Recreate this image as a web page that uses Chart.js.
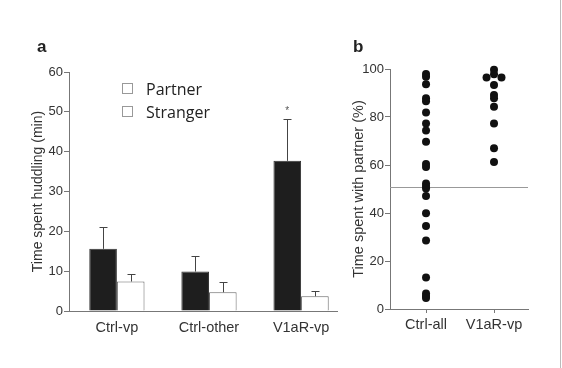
<!DOCTYPE html>
<html>
<head>
<meta charset="utf-8">
<script src="https://cdn.jsdelivr.net/npm/chart.js@4"></script>
<style>
  body { margin: 0; background: #fff; width: 562px; height: 368px; overflow: hidden; position: relative; font-family: "Liberation Sans", Arial, sans-serif; }
  #wrapA { position: absolute; left: 0; top: 0; width: 345px; height: 368px; }
  #wrapB { position: absolute; left: 340px; top: 0; width: 222px; height: 368px; }
  .panel { position: absolute; font-weight: bold; font-size: 17px; line-height: 1; color: #222; }
  .key { position: absolute; width: 9px; height: 9px; border: 1px solid #999; background: #fff; }
  .keytext { position: absolute; font-family: "Open Sans", sans-serif; font-size: 16px; line-height: 1; color: #222; }
  #edge { position: absolute; left: 560px; top: 0; width: 1px; height: 368px; background: #bbb; }
</style>
</head>
<body>
<div id="wrapA"><canvas id="chartA" width="345" height="368"></canvas></div>
<div id="wrapB"><canvas id="chartB" width="222" height="368"></canvas></div>
<div class="panel" style="left:37px; top:38px;">a</div>
<div class="panel" style="left:353px; top:38px;">b</div>
<div class="key" style="left:122px; top:83px;"></div>
<div class="keytext" style="left:146px; top:81px;">Partner</div>
<div class="key" style="left:122px; top:106px;"></div>
<div class="keytext" style="left:146px; top:104px;">Stranger</div>
<div id="edge"></div>
<script>
// panel a: huddling time (min)
var groups = ['Ctrl-vp', 'Ctrl-other', 'V1aR-vp'];
var partnerMin = [15.6, 9.9, 37.7];
var partnerErr = [21.1, 13.7, 48.3];
var strangerMin = [7.4, 4.7, 3.7];
var strangerErr = [9.4, 7.3, 4.9];
var starGroups = [2];

// panel b: time with partner (%)
var cohorts = ['Ctrl-all', 'V1aR-vp'];
var ctrlAll = [97.9, 96.8, 93.6, 87.8, 86.6, 81.9, 77.3, 74.4, 69.7, 60.4, 59.2,
  52.3, 51.2, 50.2, 47.1, 39.9, 34.6, 28.5, 13.1, 6.5, 5.4, 4.6];
var v1aR = [99.7, 97.8, 96.5, 96.5, 93.3, 89.2, 87.8, 84.3, 77.3, 67.0, 61.3];
var v1aRShift = [0, 0, -0.11, 0.11, 0, 0, 0, 0, 0, 0, 0];
var chanceLine = 51;

var ink = '#333';
var axisCol = '#777';

var errorBars = {
  id: 'errorBars',
  afterDatasetsDraw: function(chart) {
    var ctx = chart.ctx;
    var y = chart.scales.y;
    ctx.save();
    ctx.strokeStyle = '#444';
    ctx.lineWidth = 1;
    chart.data.datasets.forEach(function(ds, i) {
      chart.getDatasetMeta(i).data.forEach(function(bar, j) {
        var top = Math.round(y.getPixelForValue(ds.errTop[j])) + 0.5;
        var x = Math.round(bar.x) + 0.5;
        ctx.beginPath();
        ctx.moveTo(x, bar.y);
        ctx.lineTo(x, top);
        ctx.moveTo(x - 4, top);
        ctx.lineTo(x + 4, top);
        ctx.stroke();
      });
    });
    // significance mark
    ctx.fillStyle = '#555';
    ctx.font = '10px "Liberation Sans"';
    ctx.textAlign = 'center';
    starGroups.forEach(function(j) {
      var bar = chart.getDatasetMeta(0).data[j];
      ctx.fillText('*', bar.x, y.getPixelForValue(partnerErr[j]) - 5);
    });
    ctx.restore();
  }
};

var chanceLinePlugin = {
  id: 'chanceLine',
  beforeDatasetsDraw: function(chart) {
    var ctx = chart.ctx;
    var a = chart.chartArea;
    var py = Math.round(chart.scales.y.getPixelForValue(chanceLine)) + 0.5;
    ctx.save();
    ctx.strokeStyle = '#999';
    ctx.lineWidth = 1;
    ctx.beginPath();
    ctx.moveTo(a.left, py);
    ctx.lineTo(a.right, py);
    ctx.stroke();
    ctx.restore();
  }
};

new Chart(document.getElementById('chartA'), {
  type: 'bar',
  data: {
    datasets: [{
      label: 'Partner',
      data: groups.map(function(g, i) { return { x: i, y: partnerMin[i] }; }),
      errTop: partnerErr,
      backgroundColor: '#1e1e1e',
      borderColor: '#333',
      borderWidth: 1
    }, {
      label: 'Stranger',
      data: groups.map(function(g, i) { return { x: i, y: strangerMin[i] }; }),
      errTop: strangerErr,
      backgroundColor: '#fff',
      borderColor: '#666',
      borderWidth: 1
    }]
  },
  options: {
    responsive: false,
    animation: false,
    categoryPercentage: 0.6,
    barPercentage: 1.0,
    layout: { padding: { left: 22, top: 72, right: 8, bottom: 0 } },
    plugins: { legend: { display: false }, tooltip: { enabled: false } },
    scales: {
      x: {
        type: 'linear',
        min: -0.52,
        max: 2.39,
        offset: false,
        afterBuildTicks: function(s) { s.ticks = groups.map(function(g, i) { return { value: i }; }); },
        afterFit: function(s) { s.height = 57; },
        grid: { display: false, drawTicks: false },
        border: { display: true, color: axisCol },
        ticks: {
          callback: function(v) { return groups[v]; },
          font: { family: 'Liberation Sans', size: 14.5 },
          color: ink,
          padding: 8,
          maxRotation: 0
        }
      },
      y: {
        min: 0,
        max: 60,
        afterFit: function(s) { s.width = 47; },
        grid: { drawOnChartArea: false, tickLength: 5, color: axisCol },
        border: { color: axisCol },
        ticks: { stepSize: 10, font: { family: 'Liberation Sans', size: 13 }, color: ink, padding: 1 },
        title: {
          display: true,
          text: 'Time spent huddling (min)',
          font: { family: 'Liberation Sans', size: 14 },
          color: ink,
          padding: { top: 8, bottom: 0 }
        }
      }
    }
  },
  plugins: [errorBars]
});

new Chart(document.getElementById('chartB'), {
  type: 'scatter',
  data: {
    datasets: [{
      data: ctrlAll.map(function(v) { return { x: 0, y: v }; }),
      backgroundColor: '#111',
      borderWidth: 0,
      pointRadius: 4,
      clip: false
    }, {
      data: v1aR.map(function(v, i) { return { x: 1 + v1aRShift[i], y: v }; }),
      backgroundColor: '#111',
      borderWidth: 0,
      pointRadius: 4,
      clip: false
    }]
  },
  options: {
    responsive: false,
    animation: false,
    layout: { padding: { left: 6, top: 69, right: 34, bottom: 0 } },
    plugins: { legend: { display: false }, tooltip: { enabled: false } },
    scales: {
      x: {
        type: 'linear',
        min: -0.53,
        max: 1.5,
        afterBuildTicks: function(s) { s.ticks = cohorts.map(function(c, i) { return { value: i }; }); },
        afterFit: function(s) { s.height = 59; },
        grid: { drawOnChartArea: false, tickLength: 4, color: axisCol },
        border: { color: axisCol },
        ticks: {
          callback: function(v) { return cohorts[v]; },
          font: { family: 'Liberation Sans', size: 14.5 },
          color: ink,
          padding: 3,
          maxRotation: 0
        }
      },
      y: {
        min: 0,
        max: 100,
        afterFit: function(s) { s.width = 44; },
        grid: { drawOnChartArea: false, tickLength: 5, color: axisCol },
        border: { color: axisCol },
        ticks: { stepSize: 20, font: { family: 'Liberation Sans', size: 13 }, color: ink, padding: 1 },
        title: {
          display: true,
          text: 'Time spent with partner (%)',
          font: { family: 'Liberation Sans', size: 14.5 },
          color: ink,
          padding: { top: 4, bottom: 0 }
        }
      }
    }
  },
  plugins: [chanceLinePlugin]
});
</script>
</body>
</html>
